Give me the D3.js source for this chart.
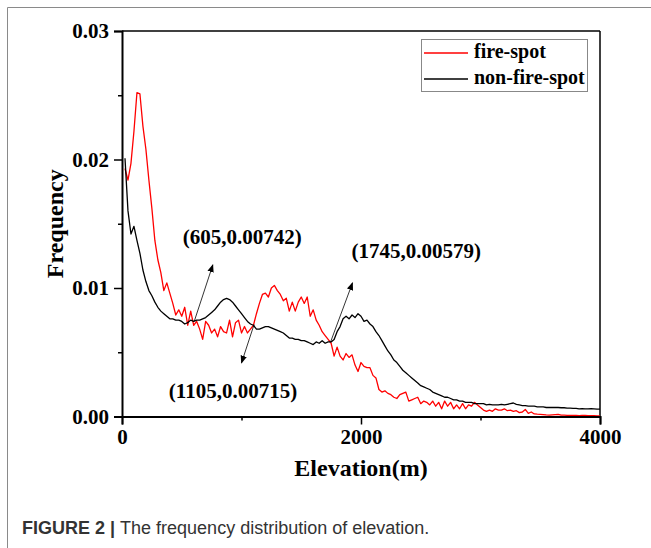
<!DOCTYPE html>
<html><head><meta charset="utf-8">
<script src="https://cdn.jsdelivr.net/npm/d3@7"></script>
<style>body{margin:0;background:#fff;overflow:hidden}</style>
</head><body>
<svg id="chart" width="651" height="548"></svg>
<script>
// ---------------- data ----------------
const elevation = [
  25,50,75,100,125,150,175,200,
  225,250,275,300,325,350,375,400,
  425,450,475,500,525,550,575,600,
  625,650,675,700,725,750,775,800,
  825,850,875,900,925,950,975,1000,
  1025,1050,1075,1100,1125,1150,1175,1200,
  1225,1250,1275,1300,1325,1350,1375,1400,
  1425,1450,1475,1500,1525,1550,1575,1600,
  1625,1650,1675,1700,1725,1750,1775,1800,
  1825,1850,1875,1900,1925,1950,1975,2000,
  2025,2050,2075,2100,2125,2150,2175,2200,
  2225,2250,2275,2300,2325,2350,2375,2400,
  2425,2450,2475,2500,2525,2550,2575,2600,
  2625,2650,2675,2700,2725,2750,2775,2800,
  2825,2850,2875,2900,2925,2950,2975,3000,
  3025,3050,3075,3100,3125,3150,3175,3200,
  3225,3250,3275,3300,3325,3350,3375,3400,
  3425,3450,3475,3500,3525,3550,3575,3600,
  3625,3650,3675,3700,3725,3750,3775,3800,
  3825,3850,3875,3900,3925,3950,3975,4000
];
const fireSpot = [
  0.0193,0.0184,0.0197,0.0222,0.0252,0.0251,0.0226,0.0208,
  0.0184,0.0162,0.0137,0.0122,0.0112,0.0098,0.0104,0.0096,
  0.0088,0.0079,0.0083,0.0078,0.0085,0.0071,0.0082,0.0071,
  0.0074,0.0068,0.0060,0.0074,0.0071,0.0065,0.0068,0.0062,
  0.0070,0.0066,0.0065,0.0075,0.0062,0.0073,0.0075,0.0065,
  0.0070,0.0065,0.0068,0.0071,0.0080,0.0088,0.0095,0.0096,
  0.0093,0.0100,0.0102,0.0098,0.0095,0.0090,0.0092,0.0082,
  0.0089,0.0082,0.0089,0.0093,0.0088,0.0093,0.0078,0.0083,
  0.0075,0.0071,0.0066,0.0063,0.0060,0.0057,0.0047,0.0054,
  0.0047,0.0044,0.0049,0.0046,0.0048,0.0040,0.0035,0.0042,
  0.0039,0.0038,0.0038,0.0032,0.0030,0.0021,0.0019,0.0020,
  0.0018,0.0017,0.0015,0.0014,0.0017,0.0018,0.0019,0.0012,
  0.0013,0.0014,0.0015,0.0010,0.0012,0.0011,0.0009,0.0012,
  0.0008,0.0011,0.0006,0.0012,0.0008,0.0011,0.0006,0.0009,
  0.0006,0.0010,0.0006,0.0009,0.0008,0.0011,0.0009,0.0007,
  0.0005,0.0004,0.0005,0.0004,0.0006,0.0005,0.0005,0.0006,
  0.00045,0.0005,0.0004,0.00045,0.0003,0.00035,0.00055,0.00025,
  0.00035,0.0002,0.00018,0.00017,0.00015,0.00012,0.00011,0.00013,
  0.00015,0.00017,0.0001,0.0001,0.00009,0.00008,0.00008,0.00008,
  0.00007,0.00008,0.00008,0.00007,0.00006,0.00006,0.00005,0.00005
];
const nonFireSpot = [
  0.0201,0.0160,0.0142,0.0148,0.0137,0.0127,0.0114,0.0105,
  0.0098,0.0094,0.0089,0.0085,0.0082,0.0080,0.0078,0.0076,
  0.0076,0.0075,0.0075,0.0074,0.0072,0.0073,0.0075,0.0074,
  0.0075,0.0075,0.0076,0.0077,0.0079,0.0081,0.0083,0.0086,
  0.0089,0.0091,0.0092,0.0091,0.0089,0.0086,0.0083,0.0080,
  0.0077,0.0074,0.0072,0.0071,0.0068,0.0068,0.0069,0.0070,
  0.0070,0.0069,0.0068,0.0067,0.0066,0.0065,0.0063,0.0061,
  0.0061,0.0060,0.0060,0.0059,0.0059,0.0058,0.0057,0.0056,
  0.0058,0.0057,0.0059,0.0057,0.0058,0.0058,0.0060,0.0066,
  0.0070,0.0076,0.0078,0.0076,0.0079,0.0077,0.0080,0.0078,
  0.0074,0.0075,0.0072,0.0070,0.0066,0.0063,0.0059,0.0055,
  0.0051,0.0048,0.0044,0.0042,0.0039,0.0036,0.0034,0.0032,
  0.0030,0.0028,0.0026,0.0024,0.0023,0.0022,0.0021,0.0019,
  0.0018,0.0017,0.0016,0.0015,0.0015,0.0014,0.0013,0.0013,
  0.0012,0.0012,0.0011,0.0011,0.0011,0.0010,0.0010,0.0010,
  0.0010,0.0009,0.00095,0.0009,0.0009,0.0009,0.00095,0.0009,
  0.00095,0.0010,0.00105,0.00095,0.0009,0.00085,0.00085,0.0008,
  0.0008,0.0008,0.00075,0.00075,0.00075,0.0007,0.0007,0.0007,
  0.0007,0.0007,0.00068,0.00068,0.00065,0.00065,0.00063,0.00063,
  0.0006,0.00062,0.0006,0.0006,0.00062,0.0006,0.00058,0.00058
];
const seriesNames = ["fire-spot", "non-fire-spot"];
const xTicks = [0, 2000, 4000];
const xMinorTicks = [1000, 3000];
const yTicks = [0, 0.01, 0.02, 0.03];
const yMinorTicks = [0.005, 0.015, 0.025];
const annotationPoints = [605, 1105, 1745];
const annotationValues = [0.00742, 0.00715, 0.00579];
const annotationLabels = ["(605,0.00742)", "(1105,0.00715)", "(1745,0.00579)"];
const xTitle = "Elevation(m)";
const yTitle = "Frequency";
const captionBold = "FIGURE 2 | ";
const captionText = "The frequency distribution of elevation.";

// ---------------- layout ----------------
const W = 651, H = 548;
const mLeft = 122, mRight = 600, mTop = 31, mBottom = 416.5;
const colors = ["#ff0000", "#000000"];
const serif = "'Liberation Serif','Times New Roman',serif";
// arrow tip / label anchor, in data units
const annLayout = [
  {tipX: 760, tipY: 0.0118, textX: 509, textY: 0.01376},
  {tipX: 1000, tipY: 0.00417, textX: 392, textY: 0.00183},
  {tipX: 1929, tipY: 0.0104, textX: 1921, textY: 0.01274}
];

const svg = d3.select("#chart");
svg.append("rect").attr("width", W).attr("height", H).attr("fill", "#fff");

// outer figure border (top + left)
svg.append("line").attr("x1", 7.5).attr("x2", W).attr("y1", 7.5).attr("y2", 7.5)
  .attr("stroke", "#8a8a8a").attr("stroke-width", 1);
svg.append("line").attr("x1", 7.5).attr("x2", 7.5).attr("y1", 7.5).attr("y2", H)
  .attr("stroke", "#8a8a8a").attr("stroke-width", 1);

const x = d3.scaleLinear().domain([0, 4000]).range([mLeft, mRight]);
const y = d3.scaleLinear().domain([0, 0.03]).range([mBottom, mTop]);

// frame top/right
svg.append("line").attr("x1", mLeft).attr("x2", mRight).attr("y1", mTop).attr("y2", mTop)
  .attr("stroke", "#000").attr("stroke-width", 1.5);
svg.append("line").attr("x1", mRight).attr("x2", mRight).attr("y1", mTop).attr("y2", mBottom)
  .attr("stroke", "#000").attr("stroke-width", 1.5);

// series
const series = [fireSpot, nonFireSpot];
const line = d3.line().x((d, i) => x(elevation[i])).y(d => y(d));
series.forEach((s, k) => {
  svg.append("path").datum(s).attr("d", line)
    .attr("fill", "none").attr("stroke", colors[k]).attr("stroke-width", 1.3)
    .attr("stroke-linejoin", "round");
});

// axes
const xAxis = svg.append("g").attr("transform", `translate(0,${mBottom})`)
  .call(d3.axisBottom(x).tickValues(xTicks).tickFormat(d3.format("d")).tickSize(8).tickPadding(5));
svg.append("g").attr("transform", `translate(0,${mBottom})`)
  .call(d3.axisBottom(x).tickValues(xMinorTicks).tickFormat("").tickSize(4))
  .call(g => g.select(".domain").remove());
const yAxis = svg.append("g").attr("transform", `translate(${mLeft},0)`)
  .call(d3.axisLeft(y).tickValues(yTicks).tickFormat(d3.format(".2f")).tickSize(8).tickPadding(5));
svg.append("g").attr("transform", `translate(${mLeft},0)`)
  .call(d3.axisLeft(y).tickValues(yMinorTicks).tickFormat("").tickSize(4))
  .call(g => g.select(".domain").remove());

svg.selectAll(".domain").attr("stroke", "#000").attr("stroke-width", 2);
svg.selectAll(".tick line").attr("stroke", "#000").attr("stroke-width", 1.5);
svg.selectAll(".tick text").attr("font-family", serif).attr("font-weight", "bold")
  .attr("font-size", 21).attr("fill", "#000");

// axis titles
svg.append("text").attr("x", (mLeft + mRight) / 2).attr("y", 476)
  .attr("text-anchor", "middle").attr("font-family", serif).attr("font-weight", "bold")
  .attr("font-size", 24).text(xTitle);
svg.append("text").attr("transform", `translate(63,${(mTop + mBottom) / 2}) rotate(-90)`)
  .attr("text-anchor", "middle").attr("font-family", serif).attr("font-weight", "bold")
  .attr("font-size", 24).text(yTitle);

// arrow marker
svg.append("defs").append("marker").attr("id", "arrow")
  .attr("viewBox", "0 0 10 10").attr("refX", 9).attr("refY", 5)
  .attr("markerWidth", 8).attr("markerHeight", 8).attr("markerUnits", "userSpaceOnUse")
  .attr("orient", "auto")
  .append("path").attr("d", "M0,1 L10,5 L0,9 Z").attr("fill", "#000");

annotationPoints.forEach((p, i) => {
  const L = annLayout[i];
  svg.append("line")
    .attr("x1", x(p)).attr("y1", y(annotationValues[i]))
    .attr("x2", x(L.tipX)).attr("y2", y(L.tipY))
    .attr("stroke", "#000").attr("stroke-width", 0.8)
    .attr("marker-end", "url(#arrow)");
  svg.append("text").attr("x", x(L.textX)).attr("y", y(L.textY))
    .attr("dominant-baseline", "middle")
    .attr("font-family", serif).attr("font-weight", "bold").attr("font-size", 21)
    .text(annotationLabels[i]);
});

// legend
const lg = svg.append("g");
lg.append("rect").attr("x", 421.5).attr("y", 39.5).attr("width", 166).attr("height", 52)
  .attr("fill", "#fff").attr("stroke", "#888").attr("stroke-width", 1);
seriesNames.forEach((n, k) => {
  const yy = 53 + k * 26;
  lg.append("line").attr("x1", 424).attr("x2", 468).attr("y1", yy).attr("y2", yy)
    .attr("stroke", colors[k]).attr("stroke-width", 1.5);
  lg.append("text").attr("x", 474).attr("y", yy).attr("dominant-baseline", "middle")
    .attr("font-family", serif).attr("font-weight", "bold").attr("font-size", 20).text(n);
});

// caption
const cap = svg.append("text").attr("x", 22).attr("y", 534)
  .attr("font-family", "'Liberation Sans Narrow','Liberation Sans',Arial,sans-serif")
  .attr("font-size", 18).attr("fill", "#333");
cap.append("tspan").attr("font-weight", "bold").text(captionBold);
cap.append("tspan").text(captionText);
</script>
</body></html>
